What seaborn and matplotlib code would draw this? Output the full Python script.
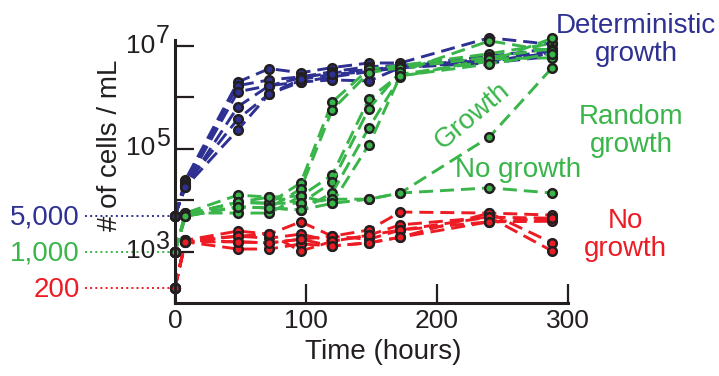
import matplotlib
matplotlib.use("Agg")
import matplotlib.pyplot as plt
import matplotlib.transforms as mtransforms
from matplotlib.ticker import NullLocator
import numpy as np
import pandas as pd
import seaborn as sns

sns.set_style("ticks")
plt.rcParams["font.family"] = ["Liberation Sans", "DejaVu Sans"]

BLUE = "#2e3192"
GREEN = "#39b54a"
RED = "#ed1c24"
INK = "#231f20"

# sampling times (hours)
hours = [0, 8, 48, 72, 96, 120, 148, 172, 240, 288]

# log10(# of cells / mL) per culture
deterministic = [
    [3.70, 4.40, 6.30, 6.56, 6.48, 6.58, 6.67, 6.67, 7.16, 7.03],
    [3.70, 4.35, 6.23, 6.34, 6.40, 6.50, 6.60, 6.62, 6.80, 6.95],
    [3.70, 4.30, 6.11, 6.23, 6.38, 6.48, 6.54, 6.60, 6.75, 6.90],
    [3.70, 4.26, 5.82, 6.23, 6.30, 6.40, 6.50, 6.58, 6.70, 6.87],
    [3.70, 4.30, 5.58, 6.07, 6.30, 6.34, 6.32, 6.58, 6.67, 6.80],
    [3.70, 4.26, 5.37, 6.07, 6.35, 6.45, 6.50, 6.62, 6.72, 6.85],
]
random_growth = [
    [3.00, 3.72, 3.96, 3.94, 4.34, 5.91, 6.55, 6.62, 6.85, 7.05],
    [3.00, 3.69, 3.87, 3.85, 4.22, 5.76, 6.48, 6.58, 6.78, 6.95],
    [3.00, 3.75, 4.10, 4.06, 4.08, 4.49, 5.97, 6.45, 6.70, 7.15],
    [3.00, 3.72, 3.96, 3.94, 3.94, 4.35, 5.78, 6.50, 7.10, 6.90],
    [3.00, 3.69, 3.87, 3.85, 3.81, 4.14, 5.41, 6.40, 6.75, 6.77],
    [3.00, 3.75, 3.75, 3.75, 4.08, 3.94, 5.08, 6.42, 6.65, 6.85],
    [3.00, 3.72, 3.96, 4.06, 3.94, 4.02, 4.02, 4.14, 5.23, 6.58],
    [3.00, 3.69, 3.87, 3.85, 3.81, 3.94, 4.02, 4.14, 4.24, 4.14],
]
no_growth = [
    [2.30, 3.22, 3.40, 3.34, 3.58, 3.30, 3.42, 3.77, 3.75, 3.71],
    [2.30, 3.19, 3.30, 3.26, 3.34, 3.20, 3.32, 3.52, 3.67, 3.65],
    [2.30, 3.22, 3.19, 3.17, 3.24, 3.30, 3.24, 3.42, 3.58, 3.59],
    [2.30, 3.19, 3.05, 3.05, 3.15, 3.11, 3.17, 3.28, 3.75, 3.17],
    [2.30, 3.22, 3.30, 3.34, 3.01, 3.20, 3.32, 3.42, 3.67, 3.01],
    [2.30, 3.19, 3.19, 3.17, 3.24, 3.11, 3.17, 3.28, 3.58, 3.65],
]

start_labels = ["5,000", "1,000", "200"]
start_values = [5000, 1000, 200]
start_colors = [BLUE, GREEN, RED]

x_ticks = [0, 100, 200, 300]
y_ticks = [1e3, 1e4, 1e5, 1e6, 1e7]
y_label_exps = [3, 5, 7]

# long-form table for seaborn
rows = []
for group, reps in [("none", no_growth), ("det", deterministic), ("rand", random_growth)]:
    for i, rep in enumerate(reps):
        for t, v in zip(hours, rep):
            rows.append({"group": group, "rep": f"{group}{i}", "hours": t, "cells": 10 ** v})
df = pd.DataFrame(rows)

fig = plt.figure(figsize=(7.19, 3.76), dpi=100)
ax = fig.add_axes([175 / 719, 1 - 303 / 376, 393 / 719, 263 / 376])
ax.set_yscale("log")

sns.lineplot(
    data=df, x="hours", y="cells", hue="group", units="rep", estimator=None,
    hue_order=["none", "det", "rand"],
    palette={"none": RED, "det": BLUE, "rand": GREEN},
    marker="o", markersize=6.2, markeredgecolor=INK, markeredgewidth=1.8,
    linestyle=(0, (4.8, 2.4)), linewidth=2.1, legend=False, sort=False,
    clip_on=False, ax=ax,
)

ax.set_xlim(0, 300)
ax.set_ylim(100, 10 ** 7.117)
ax.set_xticks(x_ticks)
ax.set_xticklabels([str(t) for t in x_ticks], fontsize=19, color=INK)
ax.set_yticks(y_ticks)
ax.set_yticklabels([])
ax.yaxis.set_minor_locator(NullLocator())
ax.tick_params(direction="in", length=13.5, width=1.6, color=INK)
ax.tick_params(axis="x", pad=4)
for side in ["top", "right"]:
    ax.spines[side].set_visible(False)
for side in ["left", "bottom"]:
    ax.spines[side].set_linewidth(2.2)
    ax.spines[side].set_color(INK)
ax.set_xlabel("")
ax.set_ylabel("")

# powers of ten, exponent nearly full size
ytrans = mtransforms.blended_transform_factory(ax.transAxes, ax.transData)
for k in y_label_exps:
    ax.annotate("10", xy=(0, 10 ** k), xycoords=ytrans, xytext=(-20, -6.5),
                textcoords="offset pixels", ha="right", va="baseline",
                fontsize=19, color=INK, annotation_clip=False)
    ax.annotate(str(k), xy=(0, 10 ** k), xycoords=ytrans, xytext=(-19, 3),
                textcoords="offset pixels", ha="left", va="baseline",
                fontsize=18, color=INK, annotation_clip=False)

# starting densities on the left
for lab, val, col in zip(start_labels, start_values, start_colors):
    ax.plot([-0.229, 0], [val, val], transform=ytrans, color=col, linestyle=":",
            linewidth=1.4, clip_on=False, zorder=1)
    ax.annotate(lab, xy=(0, val), xycoords=ytrans, xytext=(-95, -9),
                textcoords="offset pixels", ha="right", va="baseline",
                fontsize=20, color=col, annotation_clip=False)

# axis labels
ax.text(-0.165, 0.60, "# of cells / mL", transform=ax.transAxes, rotation=90,
        ha="center", va="center", fontsize=20, color=INK)
ax.text(0.53, -0.213, "Time (hours)", transform=ax.transAxes,
        ha="center", va="baseline", fontsize=20, color=INK)

# group annotations
fig.text(636 / 719, 1 - 40 / 376, "Deterministic\ngrowth", ha="center", va="center",
         fontsize=20, color=BLUE, linespacing=1.12)
fig.text(631 / 719, 1 - 131 / 376, "Random\ngrowth", ha="center", va="center",
         fontsize=20, color=GREEN, linespacing=1.12)
fig.text(625 / 719, 1 - 235 / 376, "No\ngrowth", ha="center", va="center",
         fontsize=20, color=RED, linespacing=1.12)
fig.text(472 / 719, 1 - 116 / 376, "Growth", ha="center", va="center",
         fontsize=20, color=GREEN, rotation=40, rotation_mode="anchor")
fig.text(518 / 719, 1 - 170 / 376, "No growth", ha="center", va="center",
         fontsize=20, color=GREEN)

fig.savefig("out.png", dpi=100)
